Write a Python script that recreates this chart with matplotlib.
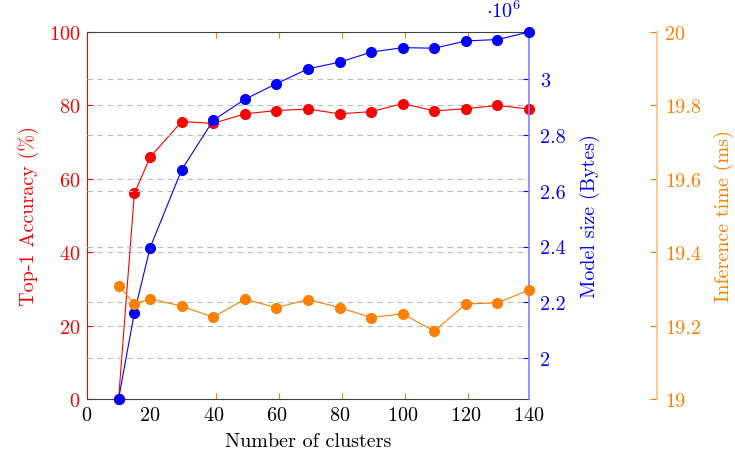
import matplotlib
matplotlib.use("Agg")
import matplotlib.pyplot as plt

plt.rcParams['font.family'] = 'serif'
plt.rcParams['font.serif'] = ['cmr10']
plt.rcParams['mathtext.fontset'] = 'cm'
plt.rcParams['axes.formatter.use_mathtext'] = True

# -- Data --
clusters = [10, 15, 20, 30, 40, 50, 60, 70, 80, 90, 100, 110, 120, 130, 140]
accuracy = [0.0, 56.0, 65.9, 75.6, 75.1, 77.7, 78.6, 79.0, 77.7, 78.3, 80.5, 78.5, 79.1, 80.0, 79.0]
model_size = [1.854, 2.163, 2.396, 2.675, 2.852, 2.927, 2.983, 3.036, 3.060, 3.096,
              3.112, 3.110, 3.136, 3.141, 3.168]  # x 1e6 bytes
inf_time = [19.309, 19.259, 19.273, 19.253, 19.223, 19.272, 19.249, 19.271, 19.249,
            19.222, 19.232, 19.185, 19.259, 19.262, 19.297]

acc_ticks = [0, 20, 40, 60, 80, 100]
size_ticks = [2, 2.2, 2.4, 2.6, 2.8, 3]
size_labels = ['2', '2.2', '2.4', '2.6', '2.8', '3']
time_ticks = [19, 19.2, 19.4, 19.6, 19.8, 20]
time_labels = ['19', '19.2', '19.4', '19.6', '19.8', '20']
x_ticks = [0, 20, 40, 60, 80, 100, 120, 140]

red = '#ff0000'
blue = '#0000ff'
orange = '#ff8000'
gridc = '#bdbdbd'
fs = 14.5

fig = plt.figure(figsize=(7.35, 4.56), dpi=100)
ax = fig.add_axes([87/735, 56/456, 442/735, 367/456])

# -- accuracy (left) --
ax.plot(clusters, accuracy, color=red, lw=0.8, marker='o', ms=7, clip_on=False, zorder=3)
ax.set_xlim(0, 140)
ax.set_ylim(0, 100)
ax.set_xticks(x_ticks)
ax.set_yticks(acc_ticks)
ax.set_xticks([40.8, 60.8, 80.8, 100.8, 120.8], minor=True)
ax.tick_params(axis='x', which='major', length=0, labelsize=fs, pad=5)
ax.tick_params(axis='x', which='minor', direction='in', length=4, color=orange,
               top=True, bottom=True, width=0.8)
ax.tick_params(axis='y', direction='in', length=4, color=red, labelcolor=red,
               labelsize=fs, width=0.8, pad=5)
ax.set_ylabel('Top-1 Accuracy (%)', color=red, fontsize=fs, labelpad=7)
ax.set_xlabel('Number of clusters', fontsize=fs, labelpad=6)
for y in acc_ticks[1:-1]:
    ax.axhline(y, color=gridc, lw=0.8, ls=(0, (5, 4)), zorder=1)
ax.spines['left'].set_color(red)
ax.spines['top'].set_color('#404040')
ax.spines['bottom'].set_color('#404040')
ax.spines['right'].set_visible(False)

# -- model size (right) --
ax2 = ax.twinx()
ax2.plot(clusters, model_size, color=blue, lw=0.8, marker='o', ms=7, clip_on=False, zorder=3)
ax2.set_ylim(min(model_size), max(model_size))
ax2.set_yticks(size_ticks)
ax2.set_yticklabels(size_labels)
ax2.tick_params(axis='y', direction='in', length=4, color=blue, labelcolor=blue,
                labelsize=fs, width=0.8, pad=8)
ax2.yaxis.grid(True, color=gridc, lw=0.8, ls=(0, (5, 4)), zorder=0)
ax2.set_ylabel('Model size (Bytes)', color=blue, fontsize=fs, labelpad=10)
for s in ['left', 'top', 'bottom']:
    ax2.spines[s].set_visible(False)
ax2.spines['right'].set_color('#8080ff')
ax2.spines['right'].set_linewidth(1.2)
ax2.text(0.983, 1.03, r'$\cdot 10^{6}$', transform=ax2.transAxes, color=blue,
         fontsize=fs, ha='right', va='bottom')

# -- inference time (far right) --
ax3 = ax.twinx()
ax3.plot(clusters, inf_time, color=orange, lw=0.8, marker='o', ms=7, clip_on=False, zorder=3)
ax3.set_ylim(19, 20)
ax3.set_yticks(time_ticks)
ax3.set_yticklabels(time_labels)
ax3.spines['right'].set_position(('axes', 1.2896))
ax3.spines['right'].set_color('#ffbf80')
ax3.spines['right'].set_linewidth(1.2)
for s in ['left', 'top', 'bottom']:
    ax3.spines[s].set_visible(False)
ax3.tick_params(axis='y', direction='in', length=5, color=orange, labelcolor=orange,
                labelsize=fs, width=0.8, pad=6)
ax3.set_ylabel('Inference time (ms)', color=orange, fontsize=fs, labelpad=9)

fig.savefig('out.png', dpi=100)
